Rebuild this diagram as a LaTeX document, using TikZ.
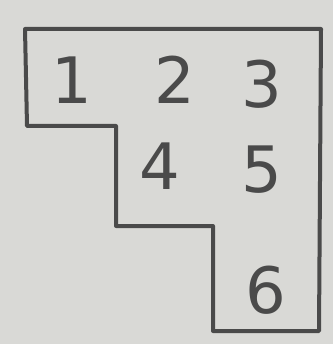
\documentclass[tikz,border=0pt]{standalone}
\usepackage{fontspec}
\setsansfont{DejaVu Sans}
\usepackage{tikz}
\usetikzlibrary{positioning}

\definecolor{paper}{HTML}{D9D9D6}
\definecolor{pencil}{HTML}{4A4A4A}

\begin{document}
\begin{tikzpicture}[
    x=1pt, y=-1pt,
    outline/.style={draw=pencil, line width=4pt, line join=round, line cap=round},
    cellnum/.style={text=pencil, font=\sffamily\fontsize{64}{64}\selectfont, inner sep=0pt}
]
% Paper background
\fill[paper] (0,0) rectangle (333,344);
\useasboundingbox (0,0) rectangle (333,344);

% Staircase outline
\draw[outline] (25,29) -- (321,29) -- (319,331) -- (213,331) -- (213,226)
    -- (116,226) -- (116,126) -- (27,126) -- cycle;

% Cell numbers
\node[cellnum] (one) at (72,80) {1};
\node[cellnum] (two) at (175,80) {2};
\node[cellnum] (three) at (262,84) {3};
\node[cellnum] (four) at (160,166) {4};
\node[cellnum] (five) at (262,170) {5};
\node[cellnum] (six) at (266,290) {6};
\end{tikzpicture}
\end{document}
